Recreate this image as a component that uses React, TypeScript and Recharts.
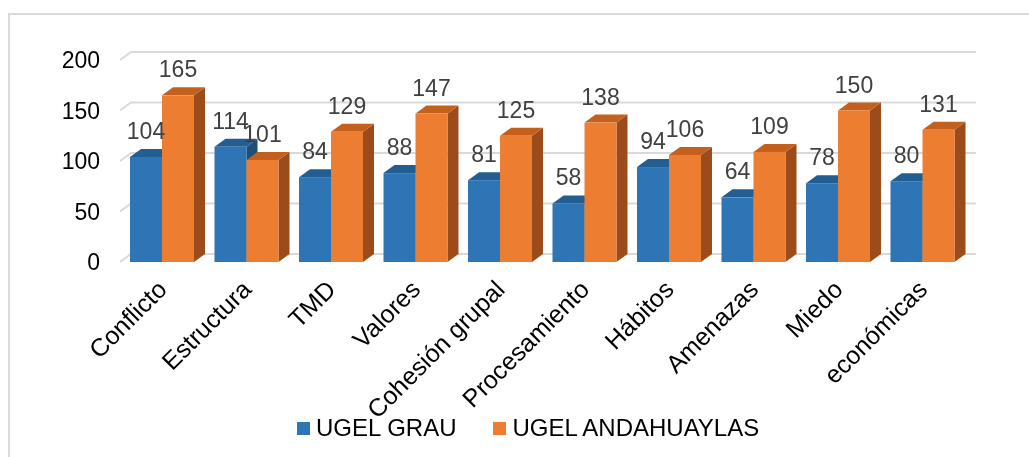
import React from "react";
import {
  BarChart,
  Bar,
  XAxis,
  YAxis,
  CartesianGrid,
  Legend,
  LabelList,
} from "recharts";

const categories = [
  "Conflicto",
  "Estructura",
  "TMD",
  "Valores",
  "Cohesión grupal",
  "Procesamiento",
  "Hábitos",
  "Amenazas",
  "Miedo",
  "económicas",
];
const ugelGrau = [104, 114, 84, 88, 81, 58, 94, 64, 78, 80];
const ugelAndahuaylas = [165, 101, 129, 147, 125, 138, 106, 109, 150, 131];
const yTicks = [0, 50, 100, 150, 200];
const seriesNames = ["UGEL GRAU", "UGEL ANDAHUAYLAS"];

const data = categories.map((c, i) => ({
  name: c,
  grau: ugelGrau[i],
  andahuaylas: ugelAndahuaylas[i],
}));

const DX = 11;
const DY = 8;
const FONT = "'Liberation Sans', Arial, sans-serif";

const COLORS = {
  blue: { front: "#2E75B6", top: "#235E93", side: "#1F4E79" },
  orange: { front: "#ED7D31", top: "#C4601E", side: "#9C4C1B" },
};

const make3D = (c: { front: string; top: string; side: string }) => (props: any) => {
  const { x, y, width, height } = props;
  if (width == null || height == null) return <g />;
  return (
    <g>
      <polygon
        points={`${x + width},${y} ${x + width + DX},${y - DY} ${x + width + DX},${y + height - DY} ${x + width},${y + height}`}
        fill={c.side}
      />
      <polygon
        points={`${x},${y} ${x + DX},${y - DY} ${x + width + DX},${y - DY} ${x + width},${y}`}
        fill={c.top}
      />
      <rect x={x} y={y} width={width} height={height} fill={c.front} />
    </g>
  );
};

const renderLabel = (props: any) => {
  const { x, y, width, value } = props;
  return (
    <text
      x={x + width / 2}
      y={y - 18}
      textAnchor="middle"
      fontFamily={FONT}
      fontSize={23}
      fill="#404040"
    >
      {value}
    </text>
  );
};

const XTick = (props: any) => {
  const { x, y, payload } = props;
  const X = x + 6;
  const Y = y + 29;
  return (
    <text
      x={X}
      y={Y}
      textAnchor="end"
      transform={`rotate(-45, ${X}, ${Y})`}
      fontFamily={FONT}
      fontSize={25}
      fill="#000"
    >
      {payload.value}
    </text>
  );
};

const gridLine = (props: any) => {
  const { x1, y1, x2, y2 } = props;
  return (
    <polyline
      key={`g-${y1}`}
      points={`${x1},${y1} ${x1 + DX},${y1 - DY} ${x2 + DX},${y2 - DY}`}
      fill="none"
      stroke="#D9D9D9"
      strokeWidth={2}
    />
  );
};

const LegendContent = () => (
  <div
    style={{
      height: 28,
      display: "flex",
      alignItems: "center",
      paddingLeft: 289,
      fontFamily: FONT,
      fontSize: 24,
      color: "#000",
      lineHeight: "28px",
    }}
  >
    <span style={{ width: 13, height: 13, background: COLORS.blue.front, display: "inline-block", marginRight: 6 }} />
    <span style={{ marginRight: 37 }}>{seriesNames[0]}</span>
    <span style={{ width: 13, height: 13, background: COLORS.orange.front, display: "inline-block", marginRight: 6 }} />
    <span>{seriesNames[1]}</span>
  </div>
);

export default function App() {
  return (
    <div>
      <div
        style={{
          position: "fixed",
          left: 8,
          top: 13,
          width: 1100,
          height: 600,
          border: "2px solid #D9D9D9",
          pointerEvents: "none",
        }}
      />
      <BarChart
        width={1013}
        height={441}
        data={data}
        margin={{ top: 52, right: 56, bottom: 7, left: 0 }}
        barGap={0}
        barSize={32}
      >
        <CartesianGrid vertical={false} horizontal={gridLine} />
        <XAxis
          dataKey="name"
          axisLine={false}
          tickLine={false}
          tickSize={0}
          tickMargin={0}
          height={152}
          interval={0}
          tick={<XTick />}
        />
        <YAxis
          domain={[0, 200]}
          ticks={yTicks}
          axisLine={false}
          tickLine={false}
          tickSize={0}
          tickMargin={20}
          width={112}
          tick={{ fontFamily: FONT, fontSize: 23, fill: "#000" }}
        />
        <Legend
          verticalAlign="bottom"
          align="left"
          content={<LegendContent />}
          wrapperStyle={{ left: 0, width: 1013 }}
        />
        <Bar dataKey="grau" name={seriesNames[0]} shape={make3D(COLORS.blue)} isAnimationActive={false}>
          <LabelList dataKey="grau" content={renderLabel} />
        </Bar>
        <Bar dataKey="andahuaylas" name={seriesNames[1]} shape={make3D(COLORS.orange)} isAnimationActive={false}>
          <LabelList dataKey="andahuaylas" content={renderLabel} />
        </Bar>
      </BarChart>
    </div>
  );
}
